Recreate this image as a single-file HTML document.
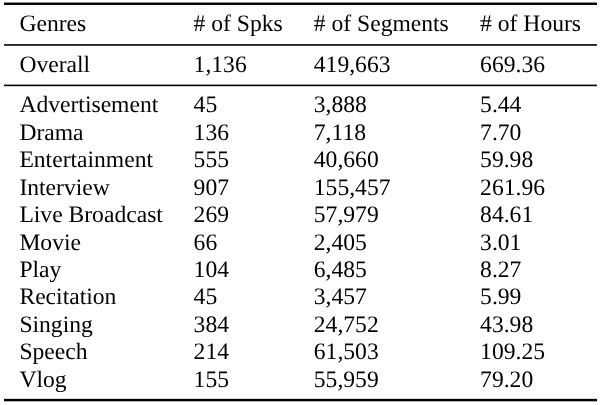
<!DOCTYPE html>
<html><head><meta charset="utf-8"><title>Genres table</title><style>
html,body{margin:0;padding:0;background:#fff;}
body{width:600px;height:405px;position:relative;overflow:hidden;}
svg{position:absolute;left:0;top:0;will-change:transform;}
text{font-family:"Liberation Serif","Times New Roman",serif;font-size:23.6px;fill:#000;white-space:pre;text-rendering:geometricPrecision;}
</style></head><body>
<svg width="600" height="405" viewBox="0 0 600 405">
<rect x="4" y="2.55" width="593" height="2.4" fill="#000"/>
<rect x="4" y="44.15" width="593" height="1.6" fill="#000"/>
<rect x="4" y="84.6" width="593" height="1.6" fill="#000"/>
<rect x="4" y="398.85" width="593" height="2.45" fill="#000"/>
<text x="19.40" y="31.40">Genres</text>
<text x="193.60" y="31.40"># of Spks</text>
<text x="313.80" y="31.40"># of Segments</text>
<text x="480.10" y="31.40"># of Hours</text>
<text x="19.40" y="72.00">Overall</text>
<text x="193.60" y="72.00">1,136</text>
<text x="313.80" y="72.00">419,663</text>
<text x="480.10" y="72.00">669.36</text>
<text x="19.40" y="112.40">Advertisement</text>
<text x="193.60" y="112.40">45</text>
<text x="313.80" y="112.40">3,888</text>
<text x="480.10" y="112.40">5.44</text>
<text x="19.40" y="139.82">Drama</text>
<text x="193.60" y="139.82">136</text>
<text x="313.80" y="139.82">7,118</text>
<text x="480.10" y="139.82">7.70</text>
<text x="19.40" y="167.24">Entertainment</text>
<text x="193.60" y="167.24">555</text>
<text x="313.80" y="167.24">40,660</text>
<text x="480.10" y="167.24">59.98</text>
<text x="19.40" y="194.66">Interview</text>
<text x="193.60" y="194.66">907</text>
<text x="313.80" y="194.66">155,457</text>
<text x="480.10" y="194.66">261.96</text>
<text x="19.40" y="222.08">Live Broadcast</text>
<text x="193.60" y="222.08">269</text>
<text x="313.80" y="222.08">57,979</text>
<text x="480.10" y="222.08">84.61</text>
<text x="19.40" y="249.50">Movie</text>
<text x="193.60" y="249.50">66</text>
<text x="313.80" y="249.50">2,405</text>
<text x="480.10" y="249.50">3.01</text>
<text x="19.40" y="276.92">Play</text>
<text x="193.60" y="276.92">104</text>
<text x="313.80" y="276.92">6,485</text>
<text x="480.10" y="276.92">8.27</text>
<text x="19.40" y="304.34">Recitation</text>
<text x="193.60" y="304.34">45</text>
<text x="313.80" y="304.34">3,457</text>
<text x="480.10" y="304.34">5.99</text>
<text x="19.40" y="331.76">Singing</text>
<text x="193.60" y="331.76">384</text>
<text x="313.80" y="331.76">24,752</text>
<text x="480.10" y="331.76">43.98</text>
<text x="19.40" y="359.18">Speech</text>
<text x="193.60" y="359.18">214</text>
<text x="313.80" y="359.18">61,503</text>
<text x="480.10" y="359.18">109.25</text>
<text x="19.40" y="386.60">Vlog</text>
<text x="193.60" y="386.60">155</text>
<text x="313.80" y="386.60">55,959</text>
<text x="480.10" y="386.60">79.20</text>
</svg>
</body></html>
